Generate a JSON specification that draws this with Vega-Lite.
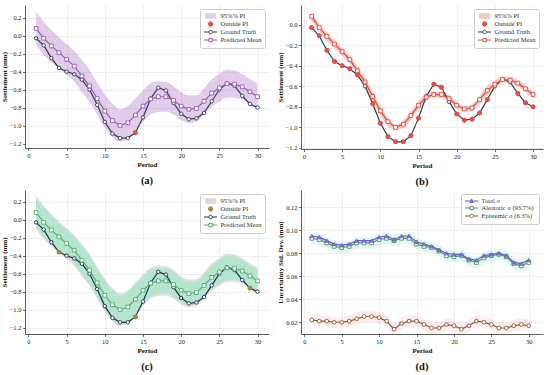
{
"$schema": "https://vega.github.io/schema/vega-lite/v6.json",
"padding": {"left": 0, "top": 5, "right": 3, "bottom": 2},
"spacing": 3,
"datasets": {"d": [
{"p":1,"gt":-0.03,"m":0.08,"alo":-0.106,"ahi":0.266,"blo":0.037,"bhi":0.123,"glo":-0.081,"ghi":0.241,"tot":0.095,"ale":0.093,"epi":0.022,"llo":0.088,"lhi":0.098,"elo":0.017,"ehi":0.027,"oa":0,"ob":1,"oc":0},
{"p":2,"gt":-0.11,"m":-0.03,"alo":-0.214,"ahi":0.154,"blo":-0.071,"bhi":0.011,"glo":-0.189,"ghi":0.129,"tot":0.094,"ale":0.092,"epi":0.021,"llo":0.087,"lhi":0.097,"elo":0.016,"ehi":0.026,"oa":0,"ob":1,"oc":0},
{"p":3,"gt":-0.25,"m":-0.115,"alo":-0.293,"ahi":0.063,"blo":-0.156,"bhi":-0.074,"glo":-0.268,"ghi":0.038,"tot":0.091,"ale":0.089,"epi":0.021,"llo":0.084,"lhi":0.094,"elo":0.016,"ehi":0.026,"oa":0,"ob":1,"oc":0},
{"p":4,"gt":-0.36,"m":-0.19,"alo":-0.362,"ahi":-0.018,"blo":-0.229,"bhi":-0.151,"glo":-0.337,"ghi":-0.043,"tot":0.088,"ale":0.086,"epi":0.020,"llo":0.081,"lhi":0.091,"elo":0.015,"ehi":0.025,"oa":0,"ob":1,"oc":1},
{"p":5,"gt":-0.40,"m":-0.265,"alo":-0.436,"ahi":-0.094,"blo":-0.304,"bhi":-0.226,"glo":-0.411,"ghi":-0.119,"tot":0.087,"ale":0.085,"epi":0.020,"llo":0.080,"lhi":0.090,"elo":0.015,"ehi":0.025,"oa":0,"ob":1,"oc":0},
{"p":6,"gt":-0.43,"m":-0.34,"alo":-0.512,"ahi":-0.168,"blo":-0.381,"bhi":-0.299,"glo":-0.487,"ghi":-0.193,"tot":0.088,"ale":0.086,"epi":0.021,"llo":0.081,"lhi":0.091,"elo":0.016,"ehi":0.026,"oa":0,"ob":1,"oc":0},
{"p":7,"gt":-0.49,"m":-0.45,"alo":-0.628,"ahi":-0.272,"blo":-0.495,"bhi":-0.405,"glo":-0.603,"ghi":-0.297,"tot":0.091,"ale":0.089,"epi":0.023,"llo":0.084,"lhi":0.094,"elo":0.018,"ehi":0.028,"oa":0,"ob":1,"oc":0},
{"p":8,"gt":-0.60,"m":-0.56,"alo":-0.738,"ahi":-0.382,"blo":-0.609,"bhi":-0.511,"glo":-0.713,"ghi":-0.407,"tot":0.091,"ale":0.089,"epi":0.025,"llo":0.084,"lhi":0.094,"elo":0.020,"ehi":0.030,"oa":0,"ob":0,"oc":0},
{"p":9,"gt":-0.77,"m":-0.70,"alo":-0.878,"ahi":-0.522,"blo":-0.749,"bhi":-0.651,"glo":-0.853,"ghi":-0.547,"tot":0.091,"ale":0.089,"epi":0.025,"llo":0.084,"lhi":0.094,"elo":0.020,"ehi":0.030,"oa":0,"ob":1,"oc":0},
{"p":10,"gt":-0.96,"m":-0.84,"alo":-1.024,"ahi":-0.656,"blo":-0.887,"bhi":-0.793,"glo":-0.999,"ghi":-0.681,"tot":0.094,"ale":0.092,"epi":0.024,"llo":0.087,"lhi":0.097,"elo":0.019,"ehi":0.029,"oa":0,"ob":1,"oc":0},
{"p":11,"gt":-1.09,"m":-0.945,"alo":-1.131,"ahi":-0.759,"blo":-0.986,"bhi":-0.904,"glo":-1.106,"ghi":-0.784,"tot":0.095,"ale":0.093,"epi":0.021,"llo":0.088,"lhi":0.098,"elo":0.016,"ehi":0.026,"oa":0,"ob":1,"oc":0},
{"p":12,"gt":-1.14,"m":-1.00,"alo":-1.180,"ahi":-0.820,"blo":-1.027,"bhi":-0.973,"glo":-1.155,"ghi":-0.845,"tot":0.092,"ale":0.091,"epi":0.014,"llo":0.086,"lhi":0.096,"elo":0.009,"ehi":0.019,"oa":0,"ob":1,"oc":0},
{"p":13,"gt":-1.14,"m":-0.97,"alo":-1.156,"ahi":-0.784,"blo":-1.007,"bhi":-0.933,"glo":-1.131,"ghi":-0.809,"tot":0.095,"ale":0.093,"epi":0.019,"llo":0.088,"lhi":0.098,"elo":0.014,"ehi":0.024,"oa":0,"ob":1,"oc":0},
{"p":14,"gt":-1.08,"m":-0.885,"alo":-1.071,"ahi":-0.699,"blo":-0.926,"bhi":-0.844,"glo":-1.046,"ghi":-0.724,"tot":0.095,"ale":0.093,"epi":0.021,"llo":0.088,"lhi":0.098,"elo":0.016,"ehi":0.026,"oa":1,"ob":1,"oc":1},
{"p":15,"gt":-0.91,"m":-0.785,"alo":-0.961,"ahi":-0.609,"blo":-0.826,"bhi":-0.744,"glo":-0.936,"ghi":-0.634,"tot":0.090,"ale":0.088,"epi":0.021,"llo":0.083,"lhi":0.093,"elo":0.016,"ehi":0.026,"oa":0,"ob":1,"oc":0},
{"p":16,"gt":-0.70,"m":-0.705,"alo":-0.877,"ahi":-0.533,"blo":-0.740,"bhi":-0.670,"glo":-0.852,"ghi":-0.558,"tot":0.088,"ale":0.086,"epi":0.018,"llo":0.081,"lhi":0.091,"elo":0.013,"ehi":0.023,"oa":0,"ob":0,"oc":0},
{"p":17,"gt":-0.58,"m":-0.68,"alo":-0.849,"ahi":-0.511,"blo":-0.709,"bhi":-0.651,"glo":-0.824,"ghi":-0.536,"tot":0.086,"ale":0.085,"epi":0.015,"llo":0.080,"lhi":0.090,"elo":0.010,"ehi":0.020,"oa":0,"ob":1,"oc":0},
{"p":18,"gt":-0.61,"m":-0.68,"alo":-0.843,"ahi":-0.517,"blo":-0.709,"bhi":-0.651,"glo":-0.818,"ghi":-0.542,"tot":0.083,"ale":0.082,"epi":0.015,"llo":0.077,"lhi":0.087,"elo":0.010,"ehi":0.020,"oa":0,"ob":1,"oc":0},
{"p":19,"gt":-0.75,"m":-0.72,"alo":-0.877,"ahi":-0.563,"blo":-0.755,"bhi":-0.685,"glo":-0.852,"ghi":-0.588,"tot":0.080,"ale":0.078,"epi":0.018,"llo":0.073,"lhi":0.083,"elo":0.013,"ehi":0.023,"oa":0,"ob":0,"oc":0},
{"p":20,"gt":-0.87,"m":-0.785,"alo":-0.940,"ahi":-0.630,"blo":-0.818,"bhi":-0.752,"glo":-0.915,"ghi":-0.655,"tot":0.079,"ale":0.077,"epi":0.017,"llo":0.072,"lhi":0.082,"elo":0.012,"ehi":0.022,"oa":0,"ob":1,"oc":0},
{"p":21,"gt":-0.93,"m":-0.82,"alo":-0.975,"ahi":-0.665,"blo":-0.847,"bhi":-0.793,"glo":-0.950,"ghi":-0.690,"tot":0.079,"ale":0.078,"epi":0.014,"llo":0.073,"lhi":0.083,"elo":0.009,"ehi":0.019,"oa":0,"ob":1,"oc":0},
{"p":22,"gt":-0.92,"m":-0.81,"alo":-0.957,"ahi":-0.663,"blo":-0.843,"bhi":-0.777,"glo":-0.932,"ghi":-0.688,"tot":0.075,"ale":0.074,"epi":0.017,"llo":0.069,"lhi":0.079,"elo":0.012,"ehi":0.022,"oa":0,"ob":1,"oc":0},
{"p":23,"gt":-0.86,"m":-0.73,"alo":-0.875,"ahi":-0.585,"blo":-0.771,"bhi":-0.689,"glo":-0.850,"ghi":-0.610,"tot":0.074,"ale":0.072,"epi":0.021,"llo":0.067,"lhi":0.077,"elo":0.016,"ehi":0.026,"oa":0,"ob":1,"oc":0},
{"p":24,"gt":-0.73,"m":-0.64,"alo":-0.793,"ahi":-0.487,"blo":-0.679,"bhi":-0.601,"glo":-0.768,"ghi":-0.512,"tot":0.078,"ale":0.076,"epi":0.020,"llo":0.071,"lhi":0.081,"elo":0.015,"ehi":0.025,"oa":0,"ob":1,"oc":0},
{"p":25,"gt":-0.60,"m":-0.58,"alo":-0.735,"ahi":-0.425,"blo":-0.615,"bhi":-0.545,"glo":-0.710,"ghi":-0.450,"tot":0.079,"ale":0.078,"epi":0.018,"llo":0.073,"lhi":0.083,"elo":0.013,"ehi":0.023,"oa":0,"ob":0,"oc":0},
{"p":26,"gt":-0.53,"m":-0.535,"alo":-0.692,"ahi":-0.378,"blo":-0.564,"bhi":-0.506,"glo":-0.667,"ghi":-0.403,"tot":0.080,"ale":0.079,"epi":0.015,"llo":0.074,"lhi":0.084,"elo":0.010,"ehi":0.020,"oa":0,"ob":0,"oc":0},
{"p":27,"gt":-0.56,"m":-0.54,"alo":-0.693,"ahi":-0.387,"blo":-0.569,"bhi":-0.511,"glo":-0.668,"ghi":-0.412,"tot":0.078,"ale":0.077,"epi":0.015,"llo":0.072,"lhi":0.082,"elo":0.010,"ehi":0.020,"oa":0,"ob":0,"oc":0},
{"p":28,"gt":-0.67,"m":-0.57,"alo":-0.711,"ahi":-0.429,"blo":-0.603,"bhi":-0.537,"glo":-0.686,"ghi":-0.454,"tot":0.072,"ale":0.071,"epi":0.017,"llo":0.066,"lhi":0.076,"elo":0.012,"ehi":0.022,"oa":0,"ob":1,"oc":0},
{"p":29,"gt":-0.76,"m":-0.625,"alo":-0.764,"ahi":-0.486,"blo":-0.660,"bhi":-0.590,"glo":-0.739,"ghi":-0.511,"tot":0.071,"ale":0.069,"epi":0.018,"llo":0.064,"lhi":0.074,"elo":0.013,"ehi":0.023,"oa":0,"ob":1,"oc":1},
{"p":30,"gt":-0.80,"m":-0.68,"alo":-0.825,"ahi":-0.535,"blo":-0.713,"bhi":-0.647,"glo":-0.800,"ghi":-0.560,"tot":0.074,"ale":0.072,"epi":0.017,"llo":0.067,"lhi":0.077,"elo":0.012,"ehi":0.022,"oa":0,"ob":1,"oc":0}
]},
"resolve": {"scale": {"x": "independent", "y": "independent", "color": "independent"}, "legend": {"color": "independent"}, "axis": {"x": "independent", "y": "independent"}},
"vconcat": [
{"hconcat": [
{
"width": 244, "height": 143,
"data": {"name": "d"},
"title": {"text": "(a)"},
"encoding": {"x": {"field": "p", "type": "quantitative", "scale": {"domain": [-0.45, 31.5], "nice": false, "zero": false}, "axis": {"values": [0,5,10,15,20,25,30], "tickCount": 20, "title": "Period"}}},
"layer": [
{"mark": {"type": "area", "interpolate": "monotone", "opacity": 0.3, "color": "#9b59b6", "clip": true},
 "encoding": {"y": {"field": "alo", "type": "quantitative", "scale": {"domain": [-1.25, 0.34], "nice": false, "zero": false}, "axis": {"values": [-1.2,-1.0,-0.8,-0.6,-0.4,-0.2,0,0.2], "tickCount": 20, "format": ".1f", "title": "Settlement (mm)"}}, "y2": {"field": "ahi"}}},
{"mark": {"type": "line", "strokeWidth": 1.2}, "encoding": {"y": {"field": "gt", "type": "quantitative"},
  "color": {"datum": "Ground Truth", "scale": {"domain": ["95%% PI", "Outside PI", "Ground Truth", "Predicted Mean"], "range": ["#e2cfeb", "#e74c3c", "#2c3e50", "#9b59b6"]},
   "legend": {"title": null, "orient": "top-right", "offset": 4, "fillColor": "white", "strokeColor": "#cccccc", "cornerRadius": 2, "padding": 3.5, "labelFontSize": 6.5, "symbolSize": 36, "rowPadding": -1.5, "labelOffset": 10, "symbolOpacity": 1,
    "encode": {"symbols": {"update": {
     "shape": {"signal": "datum.value === '95%% PI' ? 'M-0.47,-0.8H2.87V0.8H-0.47Z' : datum.value === 'Outside PI' ? 'M0.47,0A0.73,0.73 0 1,1 1.93,0A0.73,0.73 0 1,1 0.47,0Z' : datum.value === 'Ground Truth' ? 'M-1,0H0.6M1.8,0H3.4M0.6,0A0.6,0.6 0 1,1 1.8,0A0.6,0.6 0 1,1 0.6,0Z' : 'M-1,0H0.64M1.76,0H3.4M0.64,-0.56H1.76V0.56H0.64Z'"},
     "fill": {"signal": "datum.value === '95%% PI' ? '#e2cfeb' : datum.value === 'Outside PI' ? '#e74c3c' : 'white'"},
     "stroke": {"signal": "datum.value === '95%% PI' ? '#d7bde4' : datum.value === 'Outside PI' ? '#e74c3c' : datum.value === 'Ground Truth' ? '#2c3e50' : '#9b59b6'"},
     "strokeWidth": {"value": 1}, "opacity": {"value": 1}, "fillOpacity": {"value": 1}, "strokeOpacity": {"value": 1}}}}}}}},
{"mark": {"type": "point", "shape": "circle", "filled": true, "fill": "white", "stroke": "#2c3e50", "strokeWidth": 0.9, "size": 12, "opacity": 1}, "encoding": {"y": {"field": "gt", "type": "quantitative"}}},
{"mark": {"type": "line", "strokeWidth": 1.2}, "encoding": {"y": {"field": "m", "type": "quantitative"}, "color": {"datum": "Predicted Mean",
   "legend": {"title": null, "orient": "top-right", "offset": 4, "fillColor": "white", "strokeColor": "#cccccc", "cornerRadius": 2, "padding": 3.5, "labelFontSize": 6.5, "symbolSize": 36, "rowPadding": -1.5, "labelOffset": 10, "symbolOpacity": 1,
    "encode": {"symbols": {"update": {
     "shape": {"signal": "datum.value === '95%% PI' ? 'M-0.47,-0.8H2.87V0.8H-0.47Z' : datum.value === 'Outside PI' ? 'M0.47,0A0.73,0.73 0 1,1 1.93,0A0.73,0.73 0 1,1 0.47,0Z' : datum.value === 'Ground Truth' ? 'M-1,0H0.6M1.8,0H3.4M0.6,0A0.6,0.6 0 1,1 1.8,0A0.6,0.6 0 1,1 0.6,0Z' : 'M-1,0H0.64M1.76,0H3.4M0.64,-0.56H1.76V0.56H0.64Z'"},
     "fill": {"signal": "datum.value === '95%% PI' ? '#e2cfeb' : datum.value === 'Outside PI' ? '#e74c3c' : 'white'"},
     "stroke": {"signal": "datum.value === '95%% PI' ? '#d7bde4' : datum.value === 'Outside PI' ? '#e74c3c' : datum.value === 'Ground Truth' ? '#2c3e50' : '#9b59b6'"},
     "strokeWidth": {"value": 1}, "opacity": {"value": 1}, "fillOpacity": {"value": 1}, "strokeOpacity": {"value": 1}}}}}}}},
{"mark": {"type": "point", "shape": "square", "filled": true, "fill": "white", "stroke": "#9b59b6", "strokeWidth": 0.9, "size": 14, "opacity": 1}, "encoding": {"y": {"field": "m", "type": "quantitative"}}},
{"transform": [{"filter": "datum.oa == 1"}], "mark": {"type": "point", "shape": "circle", "filled": true, "color": "#e74c3c", "size": 22, "opacity": 1}, "encoding": {"y": {"field": "gt", "type": "quantitative"}}},
{"data": {"values": [{}]}, "mark": {"type": "rect", "fill": "white", "fillOpacity": 0.9, "stroke": "#9b59b6", "strokeWidth": 0.8, "cornerRadius": 2}, "encoding": {"x": {"datum": 0}, "x2": {"datum": 11.2}, "y": {"datum": -1.108}, "y2": {"datum": -1.197}}},
{"data": {"values": [{}]}, "mark": {"type": "text", "align": "left", "baseline": "middle", "fontSize": 6.5, "color": "#222"}, "encoding": {"x": {"datum": 0.35}, "y": {"datum": -1.152}, "text": {"value": "PICP = 96.7%   MPIW = 0.334 mm"}}}
]
},
{
"width": 242, "height": 144,
"data": {"name": "d"},
"title": {"text": "(b)"},
"encoding": {"x": {"field": "p", "type": "quantitative", "scale": {"domain": [-0.39, 31.3], "nice": false, "zero": false}, "axis": {"values": [0,5,10,15,20,25,30], "tickCount": 20, "title": "Period"}}},
"layer": [
{"mark": {"type": "area", "interpolate": "monotone", "opacity": 0.28, "color": "#e74c3c", "clip": true},
 "encoding": {"y": {"field": "blo", "type": "quantitative", "scale": {"domain": [-1.21, 0.19], "nice": false, "zero": false}, "axis": {"values": [-1.2,-1.0,-0.8,-0.6,-0.4,-0.2,0], "tickCount": 20, "format": ".1f", "title": "Settlement (mm)"}}, "y2": {"field": "bhi"}}},
{"mark": {"type": "line", "strokeWidth": 1.2}, "encoding": {"y": {"field": "gt", "type": "quantitative"},
  "color": {"datum": "Ground Truth", "scale": {"domain": ["95%% PI", "Outside PI", "Ground Truth", "Predicted Mean"], "range": ["#f6c9c4", "#e74c3c", "#2c3e50", "#e74c3c"]},
   "legend": {"title": null, "orient": "top-right", "offset": 4, "fillColor": "white", "strokeColor": "#cccccc", "cornerRadius": 2, "padding": 3.5, "labelFontSize": 6.5, "symbolSize": 36, "rowPadding": -1.5, "labelOffset": 10, "symbolOpacity": 1,
    "encode": {"symbols": {"update": {
     "shape": {"signal": "datum.value === '95%% PI' ? 'M-0.47,-0.8H2.87V0.8H-0.47Z' : datum.value === 'Outside PI' ? 'M0.47,0A0.73,0.73 0 1,1 1.93,0A0.73,0.73 0 1,1 0.47,0Z' : datum.value === 'Ground Truth' ? 'M-1,0H0.6M1.8,0H3.4M0.6,0A0.6,0.6 0 1,1 1.8,0A0.6,0.6 0 1,1 0.6,0Z' : 'M-1,0H0.64M1.76,0H3.4M0.64,-0.56H1.76V0.56H0.64Z'"},
     "fill": {"signal": "datum.value === '95%% PI' ? '#f6c9c4' : datum.value === 'Outside PI' ? '#e74c3c' : 'white'"},
     "stroke": {"signal": "datum.value === '95%% PI' ? '#f0b1aa' : datum.value === 'Outside PI' ? '#e74c3c' : datum.value === 'Ground Truth' ? '#2c3e50' : '#e74c3c'"},
     "strokeWidth": {"value": 1}, "opacity": {"value": 1}, "fillOpacity": {"value": 1}, "strokeOpacity": {"value": 1}}}}}}}},
{"mark": {"type": "point", "shape": "circle", "filled": true, "fill": "white", "stroke": "#2c3e50", "strokeWidth": 0.9, "size": 12, "opacity": 1}, "encoding": {"y": {"field": "gt", "type": "quantitative"}}},
{"mark": {"type": "line", "strokeWidth": 1.3}, "encoding": {"y": {"field": "m", "type": "quantitative"}, "color": {"datum": "Predicted Mean",
   "legend": {"title": null, "orient": "top-right", "offset": 4, "fillColor": "white", "strokeColor": "#cccccc", "cornerRadius": 2, "padding": 3.5, "labelFontSize": 6.5, "symbolSize": 36, "rowPadding": -1.5, "labelOffset": 10, "symbolOpacity": 1,
    "encode": {"symbols": {"update": {
     "shape": {"signal": "datum.value === '95%% PI' ? 'M-0.47,-0.8H2.87V0.8H-0.47Z' : datum.value === 'Outside PI' ? 'M0.47,0A0.73,0.73 0 1,1 1.93,0A0.73,0.73 0 1,1 0.47,0Z' : datum.value === 'Ground Truth' ? 'M-1,0H0.6M1.8,0H3.4M0.6,0A0.6,0.6 0 1,1 1.8,0A0.6,0.6 0 1,1 0.6,0Z' : 'M-1,0H0.64M1.76,0H3.4M0.64,-0.56H1.76V0.56H0.64Z'"},
     "fill": {"signal": "datum.value === '95%% PI' ? '#f6c9c4' : datum.value === 'Outside PI' ? '#e74c3c' : 'white'"},
     "stroke": {"signal": "datum.value === '95%% PI' ? '#f0b1aa' : datum.value === 'Outside PI' ? '#e74c3c' : datum.value === 'Ground Truth' ? '#2c3e50' : '#e74c3c'"},
     "strokeWidth": {"value": 1}, "opacity": {"value": 1}, "fillOpacity": {"value": 1}, "strokeOpacity": {"value": 1}}}}}}}},
{"mark": {"type": "point", "shape": "square", "filled": true, "fill": "white", "stroke": "#e74c3c", "strokeWidth": 0.9, "size": 14, "opacity": 1}, "encoding": {"y": {"field": "m", "type": "quantitative"}}},
{"transform": [{"filter": "datum.ob == 1"}], "mark": {"type": "point", "shape": "circle", "filled": true, "color": "#e74c3c", "size": 24, "opacity": 1}, "encoding": {"y": {"field": "gt", "type": "quantitative"}}},
{"data": {"values": [{}]}, "mark": {"type": "rect", "fill": "white", "fillOpacity": 0.9, "stroke": "#e74c3c", "strokeWidth": 0.8, "cornerRadius": 2}, "encoding": {"x": {"datum": -0.1}, "x2": {"datum": 7.2}, "y": {"datum": -1.077}, "y2": {"datum": -1.155}}},
{"data": {"values": [{}]}, "mark": {"type": "text", "align": "left", "baseline": "middle", "fontSize": 6.5, "color": "#222"}, "encoding": {"x": {"datum": 0.3}, "y": {"datum": -1.116}, "text": {"value": "Variance ratio = 6.3%"}}}
]
}
], "spacing": 7, "resolve": {"scale": {"x": "independent", "y": "independent", "color": "independent"}, "legend": {"color": "independent"}, "axis": {"x": "independent", "y": "independent"}}},
{"hconcat": [
{
"width": 244, "height": 144,
"data": {"name": "d"},
"title": {"text": "(c)"},
"encoding": {"x": {"field": "p", "type": "quantitative", "scale": {"domain": [-0.45, 31.5], "nice": false, "zero": false}, "axis": {"values": [0,5,10,15,20,25,30], "tickCount": 20, "title": "Period"}}},
"layer": [
{"mark": {"type": "area", "interpolate": "monotone", "opacity": 0.75, "color": "#d4d4d4", "clip": true},
 "encoding": {"y": {"field": "alo", "type": "quantitative", "scale": {"domain": [-1.27, 0.33], "nice": false, "zero": false}, "axis": {"values": [-1.2,-1.0,-0.8,-0.6,-0.4,-0.2,0,0.2], "tickCount": 20, "format": ".1f", "title": "Settlement (mm)"}}, "y2": {"field": "ahi"}}},
{"mark": {"type": "area", "interpolate": "monotone", "opacity": 0.8, "color": "#a9e6c9", "clip": true}, "encoding": {"y": {"field": "glo", "type": "quantitative"}, "y2": {"field": "ghi"}}},
{"mark": {"type": "line", "strokeWidth": 1.2}, "encoding": {"y": {"field": "gt", "type": "quantitative"},
  "color": {"datum": "Ground Truth", "scale": {"domain": ["95%% PI", "Outside PI", "Ground Truth", "Predicted Mean"], "range": ["#dcdcdc", "#9c8b3a", "#1e2d4f", "#52a96f"]},
   "legend": {"title": null, "orient": "top-right", "offset": 4, "fillColor": "white", "strokeColor": "#cccccc", "cornerRadius": 2, "padding": 3.5, "labelFontSize": 6.5, "symbolSize": 36, "rowPadding": -1.5, "labelOffset": 10, "symbolOpacity": 1,
    "encode": {"symbols": {"update": {
     "shape": {"signal": "datum.value === '95%% PI' ? 'M-0.47,-0.8H2.87V0.8H-0.47Z' : datum.value === 'Outside PI' ? 'M0.47,0A0.73,0.73 0 1,1 1.93,0A0.73,0.73 0 1,1 0.47,0Z' : datum.value === 'Ground Truth' ? 'M-1,0H0.6M1.8,0H3.4M0.6,0A0.6,0.6 0 1,1 1.8,0A0.6,0.6 0 1,1 0.6,0Z' : 'M-1,0H0.64M1.76,0H3.4M0.64,-0.56H1.76V0.56H0.64Z'"},
     "fill": {"signal": "datum.value === '95%% PI' ? '#dcdcdc' : datum.value === 'Outside PI' ? '#9c8b3a' : 'white'"},
     "stroke": {"signal": "datum.value === '95%% PI' ? '#d0d0d0' : datum.value === 'Outside PI' ? '#9c8b3a' : datum.value === 'Ground Truth' ? '#1e2d4f' : '#52a96f'"},
     "strokeWidth": {"value": 1}, "opacity": {"value": 1}, "fillOpacity": {"value": 1}, "strokeOpacity": {"value": 1}}}}}}}},
{"mark": {"type": "point", "shape": "circle", "filled": true, "fill": "white", "stroke": "#1e2d4f", "strokeWidth": 0.9, "size": 12, "opacity": 1}, "encoding": {"y": {"field": "gt", "type": "quantitative"}}},
{"mark": {"type": "line", "strokeWidth": 1.1}, "encoding": {"y": {"field": "m", "type": "quantitative"}, "color": {"datum": "Predicted Mean",
   "legend": {"title": null, "orient": "top-right", "offset": 4, "fillColor": "white", "strokeColor": "#cccccc", "cornerRadius": 2, "padding": 3.5, "labelFontSize": 6.5, "symbolSize": 36, "rowPadding": -1.5, "labelOffset": 10, "symbolOpacity": 1,
    "encode": {"symbols": {"update": {
     "shape": {"signal": "datum.value === '95%% PI' ? 'M-0.47,-0.8H2.87V0.8H-0.47Z' : datum.value === 'Outside PI' ? 'M0.47,0A0.73,0.73 0 1,1 1.93,0A0.73,0.73 0 1,1 0.47,0Z' : datum.value === 'Ground Truth' ? 'M-1,0H0.6M1.8,0H3.4M0.6,0A0.6,0.6 0 1,1 1.8,0A0.6,0.6 0 1,1 0.6,0Z' : 'M-1,0H0.64M1.76,0H3.4M0.64,-0.56H1.76V0.56H0.64Z'"},
     "fill": {"signal": "datum.value === '95%% PI' ? '#dcdcdc' : datum.value === 'Outside PI' ? '#9c8b3a' : 'white'"},
     "stroke": {"signal": "datum.value === '95%% PI' ? '#d0d0d0' : datum.value === 'Outside PI' ? '#9c8b3a' : datum.value === 'Ground Truth' ? '#1e2d4f' : '#52a96f'"},
     "strokeWidth": {"value": 1}, "opacity": {"value": 1}, "fillOpacity": {"value": 1}, "strokeOpacity": {"value": 1}}}}}}}},
{"mark": {"type": "point", "shape": "square", "filled": true, "fill": "white", "stroke": "#52a96f", "strokeWidth": 0.9, "size": 14, "opacity": 1}, "encoding": {"y": {"field": "m", "type": "quantitative"}}},
{"transform": [{"filter": "datum.oc == 1"}], "mark": {"type": "point", "shape": "circle", "filled": true, "color": "#9c8b3a", "size": 22, "opacity": 1}, "encoding": {"y": {"field": "gt", "type": "quantitative"}}},
{"data": {"values": [{}]}, "mark": {"type": "rect", "fill": "white", "fillOpacity": 0.9, "stroke": "#999999", "strokeWidth": 0.8, "cornerRadius": 2}, "encoding": {"x": {"datum": 0}, "x2": {"datum": 7.7}, "y": {"datum": -1.097}, "y2": {"datum": -1.19}}},
{"data": {"values": [{}]}, "mark": {"type": "text", "align": "left", "baseline": "middle", "fontSize": 6.5, "color": "#222"}, "encoding": {"x": {"datum": 0.35}, "y": {"datum": -1.143}, "text": {"value": "Variance ratio = 93.7%"}}}
]
},
{
"width": 242, "height": 144,
"data": {"name": "d"},
"title": {"text": "(d)"},
"encoding": {"x": {"field": "p", "type": "quantitative", "scale": {"domain": [-0.44, 31.9], "nice": false, "zero": false}, "axis": {"values": [0,5,10,15,20,25,30], "tickCount": 20, "title": "Period"}}},
"layer": [
{"mark": {"type": "area", "interpolate": "monotone", "opacity": 0.18, "color": "#40e0c0", "clip": true}, "encoding": {"y": {"field": "llo", "type": "quantitative", "scale": {"domain": [0.0098, 0.135], "nice": false, "zero": false}, "axis": {"values": [0.02,0.04,0.06,0.08,0.1,0.12], "tickCount": 20, "format": ".2f", "title": "Uncertainty Std. Dev. (mm)"}}, "y2": {"field": "lhi"}}},
{"mark": {"type": "area", "interpolate": "monotone", "opacity": 0.2, "color": "#ff9fb5", "clip": true}, "encoding": {"y": {"field": "elo", "type": "quantitative"}, "y2": {"field": "ehi"}}},
{"mark": {"type": "line", "strokeWidth": 1.2}, "encoding": {"y": {"field": "ale", "type": "quantitative"},
  "color": {"datum": "Aleatoric σ  (93.7%)", "scale": {"domain": ["Total σ", "Aleatoric σ  (93.7%)", "Epistemic σ  (6.3%)"], "range": ["#6a5acd", "#5b8f5b", "#8b5a2b"]},
   "legend": {"title": null, "orient": "top-right", "offset": 4, "fillColor": "white", "strokeColor": "#cccccc", "cornerRadius": 2, "padding": 3.5, "labelFontSize": 6.5, "symbolSize": 36, "rowPadding": -1.5, "labelOffset": 10, "symbolOpacity": 1,
    "encode": {"symbols": {"update": {
     "shape": {"signal": "datum.value === 'Total σ' ? 'M-1,0H0.6M1.8,0H3.4M1.2,-0.67L1.84,0.48H0.56Z' : datum.value === 'Epistemic σ  (6.3%)' ? 'M-1,0H0.6M1.8,0H3.4M0.6,0A0.6,0.6 0 1,1 1.8,0A0.6,0.6 0 1,1 0.6,0Z' : 'M-1,0H0.64M1.76,0H3.4M0.64,-0.56H1.76V0.56H0.64Z'"},
     "fill": {"signal": "datum.value === 'Total σ' ? '#8a7fdc' : 'white'"},
     "stroke": {"signal": "datum.value === 'Total σ' ? '#6a5acd' : datum.value === 'Epistemic σ  (6.3%)' ? '#8b5a2b' : '#5b8f5b'"},
     "strokeWidth": {"value": 1}, "opacity": {"value": 1}, "fillOpacity": {"value": 1}, "strokeOpacity": {"value": 1}}}}}}}},
{"mark": {"type": "point", "shape": "square", "filled": true, "fill": "white", "stroke": "#5b8f5b", "strokeWidth": 0.9, "size": 14, "opacity": 1}, "encoding": {"y": {"field": "ale", "type": "quantitative"}}},
{"mark": {"type": "line", "strokeWidth": 1.2}, "encoding": {"y": {"field": "tot", "type": "quantitative"}, "color": {"datum": "Total σ"}}},
{"mark": {"type": "point", "shape": "triangle-up", "filled": true, "fill": "#8a7fdc", "stroke": "#6a5acd", "strokeWidth": 0.8, "size": 16, "opacity": 1}, "encoding": {"y": {"field": "tot", "type": "quantitative"}}},
{"mark": {"type": "line", "strokeWidth": 1.2}, "encoding": {"y": {"field": "epi", "type": "quantitative"}, "color": {"datum": "Epistemic σ  (6.3%)"}}},
{"mark": {"type": "point", "shape": "circle", "filled": true, "fill": "white", "stroke": "#8b5a2b", "strokeWidth": 0.9, "size": 14, "opacity": 1}, "encoding": {"y": {"field": "epi", "type": "quantitative"}}}
]
}
], "spacing": 7, "resolve": {"scale": {"x": "independent", "y": "independent", "color": "independent"}, "legend": {"color": "independent"}, "axis": {"x": "independent", "y": "independent"}}}
],
"config": {
"font": "Liberation Serif",
"view": {"stroke": null},
"axis": {"labelFontSize": 6.5, "titleFontSize": 7, "titleFontWeight": "bold", "gridColor": "#e6e6e6", "gridWidth": 0.6, "domainColor": "#333333", "domainWidth": 0.8, "tickColor": "#333333", "tickSize": 2.5, "tickWidth": 0.7, "labelColor": "#222222", "titleColor": "#111111", "labelPadding": 1.5, "titlePadding": 2},
"legend": {"labelFont": "Liberation Serif", "labelColor": "#333333"},
"title": {"orient": "bottom", "fontSize": 10.5, "fontWeight": "bold", "offset": 8, "color": "#111111"}
}
}
